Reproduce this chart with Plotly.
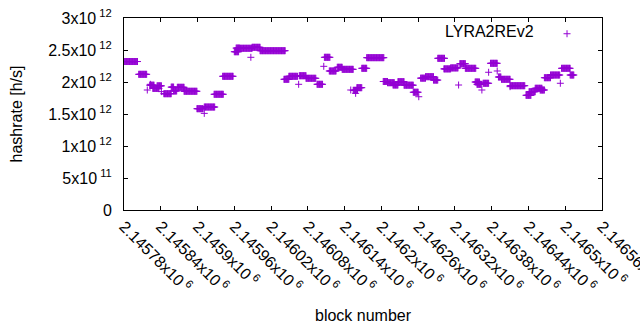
import plotly.graph_objects as go

series_name = "LYRA2REv2"

# plateaus of the hashrate series: first block, last block, hashrate (h/s)
seg_start = [2145781, 2145804, 2145818, 2145823, 2145822, 2145827, 2145834, 2145841,
             2145845, 2145857, 2145861, 2145867, 2145878, 2145899, 2145911, 2145911,
             2145927, 2145941, 2145960, 2145963, 2145968, 2145989, 2146002, 2145987,
             2146041, 2146049, 2146065, 2146066, 2146077, 2146095, 2146106, 2146107,
             2146115, 2146128, 2146136, 2146150, 2146154, 2146158, 2146160, 2146168,
             2146176, 2146203, 2146210, 2146219, 2146227, 2146237, 2146252, 2146261,
             2146264, 2146272, 2146285, 2146292, 2146302, 2146313, 2146326, 2146328,
             2146337, 2146353, 2146356, 2146364, 2146366, 2146375, 2146378, 2146389,
             2146391, 2146396, 2146410, 2146410, 2146436, 2146441, 2146451, 2146459,
             2146466, 2146476, 2146492, 2146494, 2146508]
seg_end = [2145802, 2145817, 2145818, 2145823, 2145829, 2145837, 2145841, 2145841,
           2145857, 2145861, 2145866, 2145878, 2145899, 2145909, 2145911, 2145928,
           2145942, 2145958, 2145967, 2145968, 2145989, 2146002, 2146043, 2145987,
           2146049, 2146063, 2146065, 2146077, 2146093, 2146104, 2146106, 2146116,
           2146126, 2146136, 2146154, 2146150, 2146161, 2146158, 2146168, 2146176,
           2146204, 2146210, 2146221, 2146227, 2146237, 2146252, 2146260, 2146261,
           2146272, 2146285, 2146292, 2146303, 2146313, 2146325, 2146326, 2146337,
           2146354, 2146360, 2146363, 2146364, 2146375, 2146375, 2146389, 2146389,
           2146395, 2146410, 2146410, 2146434, 2146444, 2146451, 2146462, 2146466,
           2146476, 2146491, 2146492, 2146508, 2146514]
seg_hashrate = [2.32e12, 2.12e12, 1.875e12, 1.964e12, 1.95e12, 1.90e12, 1.94e12, 1.85e12,
                1.817e12, 1.92e12, 1.86e12, 1.917e12, 1.855e12, 1.583e12, 1.51e12, 1.609e12,
                1.808e12, 2.089e12, 2.473e12, 2.53e12, 2.527e12, 2.542e12, 2.489e12, 2.386e12,
                2.042e12, 2.089e12, 1.964e12, 2.098e12, 2.058e12, 1.964e12, 2.245e12, 2.386e12,
                2.172e12, 2.23e12, 2.198e12, 1.875e12, 1.87e12, 1.823e12, 1.911e12, 2.214e12,
                2.38e12, 2.008e12, 1.989e12, 1.953e12, 2.005e12, 1.95e12, 1.84e12, 1.77e12,
                2.06e12, 2.083e12, 2.03e12, 2.37e12, 2.205e12, 2.22e12, 1.953e12, 2.286e12,
                2.214e12, 2.0e12, 1.964e12, 1.875e12, 1.98e12, 2.152e12, 2.292e12, 2.172e12,
                2.078e12, 2.042e12, 1.927e12, 1.942e12, 1.792e12, 1.848e12, 1.902e12, 1.875e12,
                2.067e12, 2.109e12, 1.98e12, 2.214e12, 2.109e12]

x_tickvals = [2145780, 2145840, 2145900, 2145960, 2146020, 2146080, 2146140,
              2146200, 2146260, 2146320, 2146380, 2146440, 2146500, 2146560]
x_ticktext = ["2.14578x10<sup> 6</sup>", "2.14584x10<sup> 6</sup>", "2.1459x10<sup> 6</sup>",
              "2.14596x10<sup> 6</sup>", "2.14602x10<sup> 6</sup>", "2.14608x10<sup> 6</sup>",
              "2.14614x10<sup> 6</sup>", "2.1462x10<sup> 6</sup>", "2.14626x10<sup> 6</sup>",
              "2.14632x10<sup> 6</sup>", "2.14638x10<sup> 6</sup>", "2.14644x10<sup> 6</sup>",
              "2.1465x10<sup> 6</sup>", "2.14656x10<sup> 6</sup>"]
y_tickvals = [0, 5e11, 1e12, 1.5e12, 2e12, 2.5e12, 3e12]
y_ticktext = ["0", "5x10<sup> 11</sup>", "1x10<sup> 12</sup>", "1.5x10<sup> 12</sup>",
              "2x10<sup> 12</sup>", "2.5x10<sup> 12</sup>", "3x10<sup> 12</sup>"]

blocks, rates = [], []
for s, e, v in zip(seg_start, seg_end, seg_hashrate):
    for b in range(s, e + 1):
        blocks.append(b)
        rates.append(v)

color = "#9400D3"
font = "Liberation Sans, Arial, sans-serif"

fig = go.Figure()
fig.add_trace(go.Scatter(
    x=blocks, y=rates, mode="markers", name=" ",
    marker=dict(symbol="cross-thin", size=5, line=dict(width=1, color=color), color=color),
))

axis_common = dict(showline=True, linecolor="black", linewidth=1, mirror="ticks",
                   ticks="inside", ticklen=4, tickcolor="black", showgrid=False,
                   zeroline=False, automargin=False, ticklabeloverflow="allow",
                   tickfont=dict(family=font, size=16, color="black"))

fig.update_layout(
    width=640, height=330,
    margin=dict(l=124, r=38, t=18, b=120),
    paper_bgcolor="white", plot_bgcolor="white",
    font=dict(family=font, size=16, color="black"),
    showlegend=True,
    legend=dict(x=0.885, y=1.006, xanchor="left", yanchor="top", bgcolor="rgba(0,0,0,0)",
                font=dict(size=16)),
    xaxis=dict(range=[2145780, 2146560], tickmode="array", tickvals=x_tickvals,
               ticktext=x_ticktext, tickangle=45, **axis_common),
    yaxis=dict(range=[0, 3e12], tickmode="array", tickvals=y_tickvals,
               ticktext=y_ticktext, ticklabelstandoff=8, **axis_common),
    annotations=[
        dict(text=series_name, xref="paper", yref="paper", x=0.862, y=0.93,
             xanchor="right", yanchor="middle", showarrow=False, font=dict(size=16)),
        dict(text="hashrate [h/s]", xref="paper", yref="paper", x=-0.225, y=0.5,
             xanchor="center", yanchor="middle", textangle=-90, showarrow=False,
             font=dict(size=16)),
        dict(text="block number", xref="paper", yref="paper", x=0.5, y=-0.55,
             xanchor="center", yanchor="middle", showarrow=False, font=dict(size=16)),
    ],
)

fig.write_html("out.html", config={"displayModeBar": False},
               post_script="document.body.style.margin='0';")
